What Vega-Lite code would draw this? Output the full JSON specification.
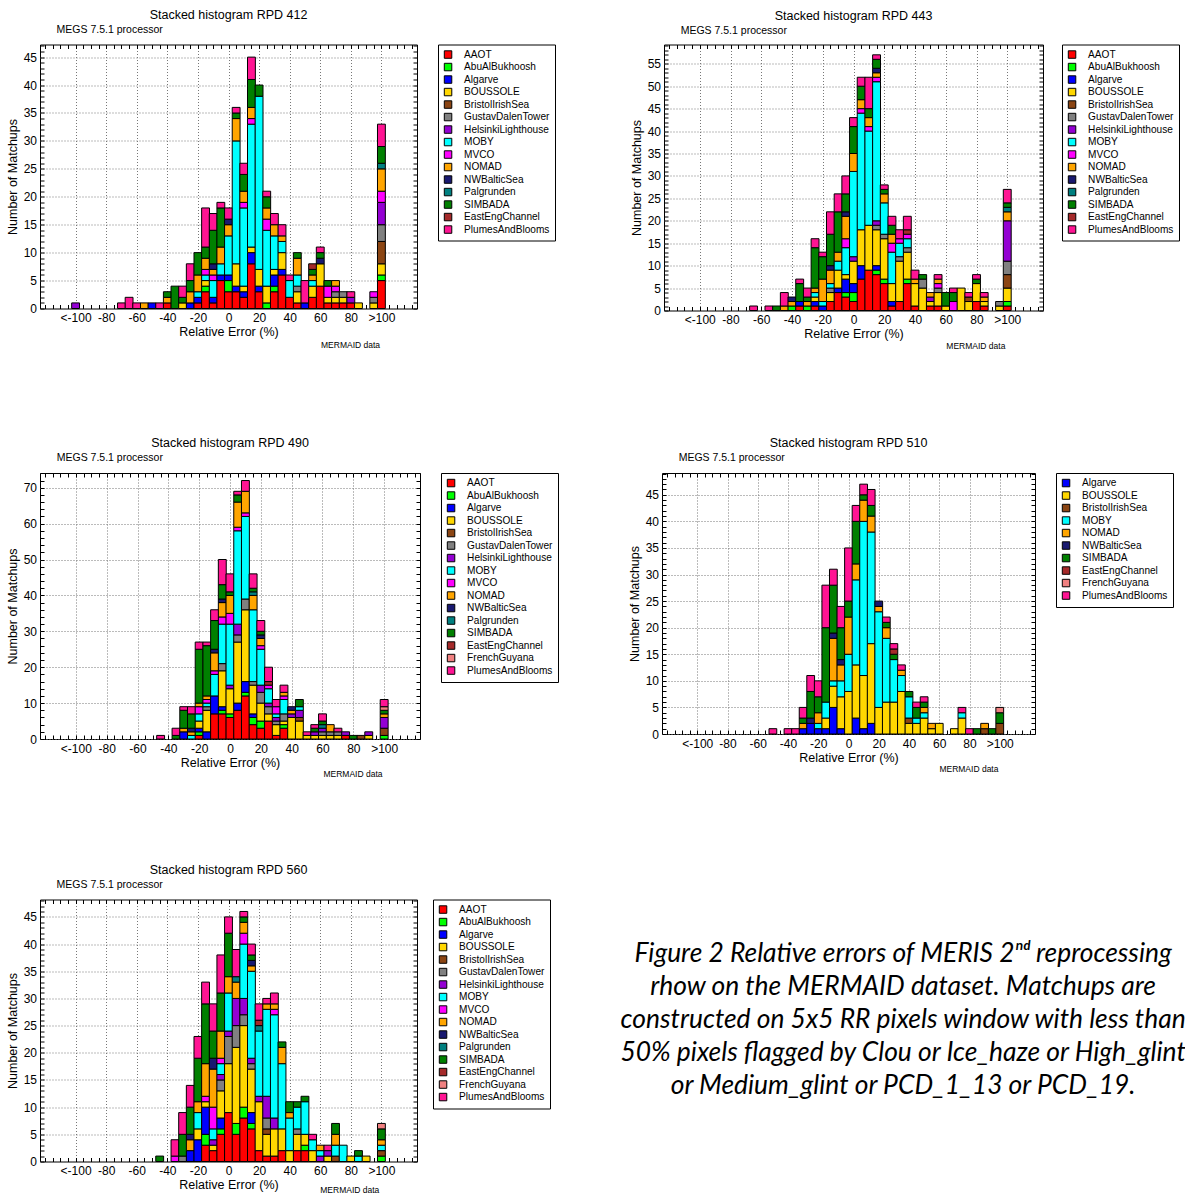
{
  "$schema": "https://vega.github.io/schema/vega-lite/v6.json",
  "padding": {"left": 5, "top": 7.5, "right": 0, "bottom": 0},
  "config": {
    "font": "Liberation Sans",
    "view": {"stroke": "black", "strokeWidth": 1},
    "title": {"font": "Liberation Sans", "fontSize": 12.5, "fontWeight": "normal", "color": "black", "frame": "group", "anchor": "middle", "offset": 3.5},
    "text": {"font": "Liberation Sans", "color": "black"},
    "axis": {
      "labelFont": "Liberation Sans", "labelFontSize": 12, "labelColor": "black",
      "titleFont": "Liberation Sans", "titleFontSize": 12.5, "titleFontWeight": "normal", "titleColor": "black",
      "tickSize": -4, "tickColor": "black", "tickWidth": 1, "domain": false,
      "gridColor": "#777777", "gridDash": [1, 2], "gridWidth": 1,
      "labelOverlap": false, "labelFlush": false, "labelBound": false
    },
    "axisX": {"labelPadding": 8, "titlePadding": 2},
    "axisY": {"labelPadding": 7.5, "titlePadding": 4},
    "legend": {
      "orient": "right", "offset": 19.5, "padding": 5, "strokeColor": "black", "fillColor": "white",
      "symbolType": "square", "symbolSize": 56, "symbolStrokeColor": "black", "symbolStrokeWidth": 1,
      "labelFont": "Liberation Sans", "labelFontSize": 10.1, "labelColor": "black", "labelOffset": 11, "rowPadding": 0.5
    }
  },
  "datasets": {
    "sites": [
      {"code": "AA", "site": "AAOT", "rank": 1},
      {"code": "AB", "site": "AbuAlBukhoosh", "rank": 2},
      {"code": "AL", "site": "Algarve", "rank": 3},
      {"code": "BO", "site": "BOUSSOLE", "rank": 4},
      {"code": "BR", "site": "BristolIrishSea", "rank": 5},
      {"code": "GD", "site": "GustavDalenTower", "rank": 6},
      {"code": "HL", "site": "HelsinkiLighthouse", "rank": 7},
      {"code": "MO", "site": "MOBY", "rank": 8},
      {"code": "MV", "site": "MVCO", "rank": 9},
      {"code": "NO", "site": "NOMAD", "rank": 10},
      {"code": "NW", "site": "NWBalticSea", "rank": 11},
      {"code": "PA", "site": "Palgrunden", "rank": 12},
      {"code": "SI", "site": "SIMBADA", "rank": 13},
      {"code": "EE", "site": "EastEngChannel", "rank": 14},
      {"code": "FG", "site": "FrenchGuyana", "rank": 15},
      {"code": "PB", "site": "PlumesAndBlooms", "rank": 16}
    ],
    "rpd412": [
      {"c": -100, "HL": 1},
      {"c": -70, "PB": 1},
      {"c": -65, "PB": 2},
      {"c": -60, "PB": 1},
      {"c": -55, "NO": 1},
      {"c": -50, "AL": 1},
      {"c": -45, "PB": 1},
      {"c": -40, "AA": 1, "NO": 1, "SI": 1},
      {"c": -35, "SI": 4},
      {"c": -30, "BO": 1, "SI": 1, "PB": 2},
      {"c": -25, "AL": 1, "NO": 2, "SI": 2, "PB": 3},
      {"c": -20, "AA": 1, "AL": 1, "MO": 1, "NO": 3, "SI": 4},
      {"c": -15, "AA": 3, "AB": 1, "BO": 1, "MO": 1, "MV": 1, "NO": 2, "SI": 2, "PB": 7},
      {"c": -10, "AA": 1, "AL": 1, "MO": 3, "MV": 1, "NO": 1, "NW": 1, "SI": 6, "PB": 3},
      {"c": -5, "AA": 5, "AL": 1, "MO": 2, "NO": 3, "SI": 7, "PB": 1},
      {"c": 0, "AA": 3, "AB": 2, "AL": 1, "MO": 7, "NO": 2, "NW": 1, "PB": 2},
      {"c": 5, "AA": 3, "AL": 1, "BO": 4, "MO": 22, "NO": 4, "SI": 1, "PB": 1},
      {"c": 10, "AA": 2, "AL": 1, "BO": 1, "MO": 14, "MV": 1, "NO": 2, "SI": 3, "PB": 2},
      {"c": 15, "AA": 8, "AL": 2, "BO": 1, "MO": 22, "MV": 1, "NO": 2, "SI": 5, "PB": 4},
      {"c": 20, "AA": 3, "AL": 1, "BO": 3, "MO": 31, "SI": 2},
      {"c": 25, "AB": 1, "BO": 3, "MO": 10, "MV": 2, "NO": 2, "SI": 2, "PB": 1},
      {"c": 30, "AA": 3, "AB": 1, "AL": 2, "BO": 1, "MO": 6, "NO": 2, "PB": 2},
      {"c": 35, "AA": 6, "AL": 1, "BO": 3, "MO": 2, "NO": 1, "PB": 2},
      {"c": 40, "AA": 2, "MO": 3, "PB": 1},
      {"c": 45, "AA": 1, "BO": 2, "GD": 1, "MO": 2, "NO": 3, "SI": 1},
      {"c": 50, "AL": 1, "PB": 4},
      {"c": 55, "AA": 2, "BO": 2, "MO": 1, "NO": 1, "SI": 1, "EE": 1},
      {"c": 60, "AA": 4, "BO": 4, "NW": 1, "SI": 1, "PB": 1},
      {"c": 65, "AA": 1, "BO": 1, "MV": 2, "SI": 1},
      {"c": 70, "AA": 1, "BO": 1, "GD": 1, "MV": 1, "NO": 1},
      {"c": 75, "AA": 1, "BO": 1, "GD": 1},
      {"c": 80, "AA": 1, "HL": 1, "PB": 1},
      {"c": 85, "BO": 1},
      {"c": 95, "BO": 1, "GD": 1, "MV": 1},
      {"c": 100, "AA": 5, "AB": 1, "BO": 2, "BR": 4, "GD": 3, "HL": 4, "MV": 2, "NO": 4, "PA": 1, "SI": 3, "PB": 4}
    ],
    "rpd443": [
      {"c": -65, "PB": 1},
      {"c": -55, "PB": 1},
      {"c": -50, "SI": 1},
      {"c": -45, "NO": 1, "PB": 3},
      {"c": -40, "AB": 1, "NO": 1, "NW": 1},
      {"c": -35, "AA": 1, "AL": 1, "SI": 4, "PB": 1},
      {"c": -30, "AB": 1, "NO": 1, "SI": 1, "PB": 2},
      {"c": -25, "AA": 1, "AL": 1, "BO": 1, "MO": 1, "NO": 1, "SI": 9, "PB": 2},
      {"c": -20, "AL": 1, "MO": 1, "NO": 5, "SI": 5, "PB": 1},
      {"c": -15, "AA": 2, "BO": 2, "GD": 1, "MO": 1, "NO": 3, "NW": 1, "SI": 7, "PB": 5},
      {"c": -10, "AA": 4, "AL": 1, "BO": 4, "MO": 2, "NO": 2, "SI": 9, "PB": 4},
      {"c": -5, "AA": 3, "AB": 1, "AL": 3, "BO": 1, "MO": 6, "MV": 2, "NO": 5, "NW": 1, "SI": 4, "PB": 4},
      {"c": 0, "AA": 2, "AB": 2, "AL": 2, "BO": 5, "HL": 1, "MO": 19, "NO": 4, "SI": 6, "PB": 2},
      {"c": 5, "AA": 7, "AL": 3, "BO": 8, "MO": 26, "MV": 1, "NO": 2, "SI": 3, "PB": 2},
      {"c": 10, "AA": 9, "BO": 10, "MO": 21, "MV": 1, "NO": 2, "SI": 2, "PB": 7},
      {"c": 15, "AA": 8, "AB": 1, "AL": 1, "BO": 8, "GD": 1, "HL": 1, "MO": 31, "MV": 1, "NO": 1, "NW": 1, "SI": 2, "PB": 1},
      {"c": 20, "AA": 6, "AB": 1, "BO": 9, "GD": 1, "MO": 7, "NO": 2, "SI": 1, "PB": 1},
      {"c": 25, "AA": 1, "AL": 1, "BO": 4, "MO": 7, "MV": 2, "NO": 2, "SI": 2, "PB": 2},
      {"c": 30, "AA": 2, "BO": 9, "GD": 1, "MO": 3, "MV": 1, "PB": 2},
      {"c": 35, "AA": 6, "AB": 1, "BO": 6, "GD": 1, "MO": 2, "MV": 1, "EE": 1, "PB": 3},
      {"c": 40, "AA": 1, "BO": 5, "NO": 1, "PB": 2},
      {"c": 45, "BO": 5, "GD": 2, "SI": 1},
      {"c": 50, "AA": 1, "BO": 1, "HL": 1, "NO": 1},
      {"c": 55, "AA": 1, "BO": 3, "GD": 1, "MV": 1, "NO": 1, "PB": 1},
      {"c": 60, "BO": 1, "SI": 3},
      {"c": 65, "MV": 2, "SI": 2, "PB": 1},
      {"c": 70, "BO": 5},
      {"c": 75, "BO": 2, "BR": 1, "PB": 1},
      {"c": 80, "AA": 2, "BO": 4, "SI": 1, "PB": 1},
      {"c": 85, "AA": 1, "BO": 1, "NO": 1, "PB": 1},
      {"c": 95, "BO": 1, "GD": 1},
      {"c": 100, "AA": 1, "AB": 1, "BO": 3, "BR": 3, "GD": 3, "HL": 9, "NO": 2, "PA": 1, "SI": 1, "PB": 3}
    ],
    "rpd490": [
      {"c": -45, "PB": 1},
      {"c": -35, "SI": 1, "PB": 2},
      {"c": -30, "AL": 2, "NO": 1, "SI": 5, "PB": 1},
      {"c": -25, "MO": 1, "NO": 1, "NW": 1, "SI": 4, "PB": 2},
      {"c": -20, "AA": 1, "AB": 1, "AL": 1, "BO": 2, "MO": 2, "MV": 2, "NO": 1, "SI": 15, "PB": 2},
      {"c": -15, "AL": 2, "BO": 6, "GD": 1, "MO": 1, "MV": 1, "NO": 1, "SI": 14, "PB": 1},
      {"c": -10, "AA": 7, "AL": 5, "MO": 6, "MV": 1, "NO": 5, "NW": 1, "SI": 8, "PB": 3},
      {"c": -5, "AA": 7, "AB": 1, "AL": 1, "BO": 10, "GD": 2, "MO": 11, "MV": 2, "NO": 4, "NW": 1, "SI": 4, "PB": 7},
      {"c": 0, "AA": 6, "AB": 1, "BO": 7, "HL": 1, "MO": 17, "MV": 3, "NO": 5, "SI": 1, "PB": 5},
      {"c": 5, "AA": 8, "AL": 2, "BO": 17, "GD": 2, "HL": 3, "MO": 26, "MV": 1, "NO": 7, "SI": 2, "PB": 1},
      {"c": 10, "AA": 12, "AB": 1, "AL": 3, "BO": 20, "GD": 3, "MO": 23, "MV": 1, "NO": 6, "PB": 3},
      {"c": 15, "AA": 4, "AB": 2, "AL": 1, "BO": 8, "GD": 1, "MO": 20, "NO": 4, "PA": 1, "SI": 1, "PB": 4},
      {"c": 20, "AA": 3, "AB": 2, "BO": 5, "GD": 3, "HL": 2, "MO": 10, "MV": 1, "NO": 2, "NW": 1, "SI": 1, "PB": 3},
      {"c": 25, "AA": 5, "BO": 2, "GD": 2, "HL": 1, "MO": 4, "MV": 1, "EE": 1, "PB": 4},
      {"c": 30, "AA": 1, "BO": 3, "GD": 1, "HL": 1, "MO": 1, "MV": 2, "PB": 2},
      {"c": 35, "AA": 3, "AB": 1, "BO": 1, "GD": 2, "MO": 4, "MV": 1, "NO": 1, "PB": 2},
      {"c": 40, "BO": 6, "HL": 1, "NO": 1, "NW": 1},
      {"c": 45, "BO": 5, "BR": 1, "HL": 2, "MO": 1, "SI": 2},
      {"c": 50, "BO": 1, "PB": 1},
      {"c": 55, "BO": 1, "HL": 1, "SI": 1, "PB": 1},
      {"c": 60, "BO": 1, "GD": 1, "HL": 1, "PA": 1, "SI": 1, "PB": 2},
      {"c": 65, "BO": 1, "GD": 1, "NO": 2},
      {"c": 70, "BO": 1, "GD": 1, "PB": 1},
      {"c": 75, "AA": 1, "HL": 1},
      {"c": 80, "SI": 1},
      {"c": 85, "BR": 1},
      {"c": 90, "BO": 1, "HL": 1},
      {"c": 100, "AB": 1, "BR": 2, "HL": 3, "NO": 1, "SI": 1, "FG": 1, "PB": 2}
    ],
    "rpd510": [
      {"c": -50, "PB": 1},
      {"c": -40, "PB": 1},
      {"c": -35, "PB": 1},
      {"c": -30, "AL": 1, "NO": 1, "SI": 1, "PB": 2},
      {"c": -25, "AL": 2, "NW": 1, "SI": 5, "PB": 3},
      {"c": -20, "AL": 1, "MO": 1, "NO": 2, "SI": 3, "PB": 3},
      {"c": -15, "AL": 1, "BO": 2, "MO": 3, "SI": 14, "PB": 8},
      {"c": -10, "AL": 5, "BO": 4, "MO": 1, "NO": 8, "NW": 1, "SI": 9, "PB": 3},
      {"c": -5, "AL": 1, "BO": 6, "MO": 3, "NO": 3, "NW": 1, "SI": 6, "PB": 4},
      {"c": 0, "BO": 8, "MO": 7, "NO": 7, "SI": 3, "PB": 10},
      {"c": 5, "AL": 3, "BO": 10, "MO": 16, "NO": 3, "SI": 8, "PB": 3},
      {"c": 10, "AL": 1, "BO": 10, "MO": 29, "NO": 4, "SI": 1, "PB": 2},
      {"c": 15, "AL": 2, "BO": 15, "MO": 21, "NO": 3, "SI": 2, "PB": 3},
      {"c": 20, "BO": 5, "MO": 18, "NO": 1, "NW": 1},
      {"c": 25, "BO": 6, "MO": 12, "NO": 2, "SI": 1, "PB": 1},
      {"c": 30, "BO": 6, "MO": 8, "SI": 1, "EE": 1, "PB": 1},
      {"c": 35, "BO": 8, "MO": 3, "NO": 1, "PB": 1},
      {"c": 40, "BO": 2, "BR": 1, "MO": 4, "SI": 1},
      {"c": 45, "BO": 2, "MO": 1, "SI": 2, "PB": 1},
      {"c": 50, "BO": 3, "MO": 1, "NO": 1, "SI": 1, "PB": 1},
      {"c": 55, "BO": 1, "NO": 1},
      {"c": 60, "BO": 2},
      {"c": 70, "BO": 1},
      {"c": 75, "BO": 3, "MO": 1, "PB": 1},
      {"c": 80, "PB": 1},
      {"c": 85, "SI": 1},
      {"c": 90, "BR": 1, "NO": 1},
      {"c": 95, "SI": 1},
      {"c": 100, "BR": 2, "SI": 2, "FG": 1}
    ],
    "rpd560": [
      {"c": -45, "SI": 1},
      {"c": -35, "MV": 1, "PB": 3},
      {"c": -30, "GD": 1, "SI": 4, "PB": 4},
      {"c": -25, "AL": 2, "NO": 2, "NW": 1, "SI": 5, "PB": 4},
      {"c": -20, "AL": 4, "BO": 2, "MO": 3, "NO": 2, "SI": 8, "PB": 4},
      {"c": -15, "AA": 3, "AB": 2, "AL": 5, "BO": 1, "MV": 1, "NO": 6, "SI": 11, "PB": 4},
      {"c": -10, "AA": 2, "BO": 1, "HL": 1, "MO": 2, "MV": 4, "NO": 7, "NW": 2, "SI": 5, "PB": 5},
      {"c": -5, "AA": 5, "AB": 1, "AL": 2, "BO": 5, "GD": 2, "HL": 1, "MO": 2, "MV": 1, "NO": 5, "SI": 7, "PB": 7},
      {"c": 0, "AA": 9, "BO": 9, "GD": 5, "HL": 1, "MO": 7, "NO": 3, "SI": 8, "PB": 3},
      {"c": 5, "AA": 5, "AB": 2, "BO": 14, "GD": 4, "HL": 5, "NO": 3, "PA": 1, "PB": 5},
      {"c": 10, "AA": 8, "AB": 2, "BO": 15, "GD": 2, "HL": 3, "MO": 10, "MV": 2, "NO": 2, "SI": 1, "PB": 1},
      {"c": 15, "AA": 6, "AB": 1, "AL": 2, "BO": 8, "GD": 1, "HL": 1, "MO": 16, "NO": 1, "NW": 1, "SI": 1, "PB": 2},
      {"c": 20, "AA": 2, "BO": 9, "HL": 1, "MO": 12, "PA": 1, "EE": 1, "PB": 3},
      {"c": 25, "AA": 1, "BO": 4, "BR": 1, "GD": 2, "HL": 4, "MO": 16, "NO": 1, "PB": 1},
      {"c": 30, "AA": 1, "BO": 5, "HL": 2, "MO": 19, "MV": 1, "NO": 1, "PB": 2},
      {"c": 35, "AA": 2, "BO": 4, "MO": 12, "NO": 3, "SI": 1},
      {"c": 40, "BO": 2, "MO": 6, "NO": 1, "SI": 2},
      {"c": 45, "AA": 2, "BO": 3, "GD": 1, "MO": 4, "SI": 1},
      {"c": 50, "AA": 2, "AB": 1, "BO": 2, "MO": 6, "SI": 1},
      {"c": 55, "BO": 2, "MO": 2, "PB": 1},
      {"c": 60, "HL": 1, "MO": 1, "NO": 1},
      {"c": 65, "BO": 1, "HL": 1, "PB": 1},
      {"c": 70, "BR": 1, "MO": 2, "NO": 2, "SI": 2},
      {"c": 75, "MO": 3},
      {"c": 80, "BO": 1},
      {"c": 85, "MO": 1, "SI": 1},
      {"c": 90, "BO": 1},
      {"c": 100, "AB": 1, "BR": 1, "MO": 1, "NO": 1, "SI": 2, "FG": 1}
    ]
  },
  "resolve": {"scale": {"color": "independent"}, "legend": {"color": "independent"}},
  "spacing": 84.5,
  "vconcat": [
    {
      "spacing": 73,
      "resolve": {"scale": {"color": "independent"}, "legend": {"color": "independent"}},
      "hconcat": [
        {
          "title": {"text": "Stacked histogram RPD 412"},
          "width": 377, "height": 264,
          "data": {"name": "rpd412"},
          "transform": [
            {"fold": ["AA", "AB", "AL", "BO", "BR", "GD", "HL", "MO", "MV", "NO", "NW", "PA", "SI", "EE", "FG", "PB"], "as": ["code", "n"]},
            {"filter": "datum.n > 0"},
            {"lookup": "code", "from": {"data": {"name": "sites"}, "key": "code", "fields": ["site", "rank"]}}
          ],
          "layer": [
            {
              "mark": {"type": "bar", "orient": "vertical", "width": 7.85, "stroke": "black", "strokeWidth": 1},
              "encoding": {
                "x": {"field": "c", "type": "quantitative", "scale": {"domain": [-120, 120], "nice": false, "zero": false},
                  "axis": {"orient": "bottom", "title": "Relative Error (%)", "tickCount": 48,
                    "labelExpr": "datum.value == -100 ? '<-100' : datum.value == 100 ? '>100' : (datum.value % 20 == 0 && abs(datum.value) < 100 ? '' + datum.value : '')",
                    "gridOpacity": {"condition": {"test": "datum.value % 20 == 0 && abs(datum.value) <= 100", "value": 1}, "value": 0}}},
                "y": {"field": "n", "type": "quantitative", "stack": "zero", "scale": {"domain": [0, 47.26], "nice": false},
                  "axis": {"orient": "left", "title": "Number of Matchups", "tickCount": 47,
                    "labelExpr": "datum.value % 5 == 0 ? '' + datum.value : ''",
                    "gridOpacity": {"condition": {"test": "datum.value % 5 == 0", "value": 1}, "value": 0}}},
                "color": {"field": "site", "type": "nominal",
                  "scale": {"domain": ["AAOT", "AbuAlBukhoosh", "Algarve", "BOUSSOLE", "BristolIrishSea", "GustavDalenTower", "HelsinkiLighthouse", "MOBY", "MVCO", "NOMAD", "NWBalticSea", "Palgrunden", "SIMBADA", "EastEngChannel", "PlumesAndBlooms"],
                    "range": ["#ff0000", "#00ff00", "#0000ff", "#ffd700", "#8b4513", "#808080", "#9400d3", "#00ffff", "#ff00ff", "#ffa500", "#191970", "#008080", "#008000", "#a52a2a", "#ff1493"]},
                  "legend": {"title": null}},
                "order": {"field": "rank", "type": "quantitative"}
              }
            },
            {
              "data": {"values": [{"note": "MEGS 7.5.1 processor"}]},
              "mark": {"type": "text", "align": "left", "baseline": "middle", "fontSize": 10.5},
              "encoding": {
                "text": {"field": "note"},
                "x": {"datum": -112.4, "type": "quantitative", "scale": {"domain": [-120, 120], "nice": false, "zero": false},
                  "axis": {"orient": "top", "tickCount": 48, "labels": false, "grid": false, "domain": false, "title": null}},
                "y": {"datum": 49.86, "type": "quantitative", "scale": {"domain": [0, 47.26], "nice": false},
                  "axis": {"orient": "right", "tickCount": 47, "labels": false, "grid": false, "domain": false, "title": null}}
              }
            },
            {
              "data": {"values": [{"note": "MERMAID data"}]},
              "mark": {"type": "text", "align": "left", "baseline": "middle", "fontSize": 8.5},
              "encoding": {
                "text": {"field": "note"},
                "x": {"datum": 60.5, "type": "quantitative", "axis": null},
                "y": {"datum": -6.62, "type": "quantitative", "axis": null}
              }
            }
          ],
          "resolve": {"axis": {"x": "independent", "y": "independent"}}
        },
        {
          "title": {"text": "Stacked histogram RPD 443"},
          "width": 379, "height": 266,
          "data": {"name": "rpd443"},
          "transform": [
            {"fold": ["AA", "AB", "AL", "BO", "BR", "GD", "HL", "MO", "MV", "NO", "NW", "PA", "SI", "EE", "FG", "PB"], "as": ["code", "n"]},
            {"filter": "datum.n > 0"},
            {"lookup": "code", "from": {"data": {"name": "sites"}, "key": "code", "fields": ["site", "rank"]}}
          ],
          "layer": [
            {
              "mark": {"type": "bar", "orient": "vertical", "width": 7.9, "stroke": "black", "strokeWidth": 1},
              "encoding": {
                "x": {"field": "c", "type": "quantitative", "scale": {"domain": [-120, 120], "nice": false, "zero": false},
                  "axis": {"orient": "bottom", "title": "Relative Error (%)", "tickCount": 48,
                    "labelExpr": "datum.value == -100 ? '<-100' : datum.value == 100 ? '>100' : (datum.value % 20 == 0 && abs(datum.value) < 100 ? '' + datum.value : '')",
                    "gridOpacity": {"condition": {"test": "datum.value % 20 == 0 && abs(datum.value) <= 100", "value": 1}, "value": 0}}},
                "y": {"field": "n", "type": "quantitative", "stack": "zero", "scale": {"domain": [0, 59.3], "nice": false},
                  "axis": {"orient": "left", "title": "Number of Matchups", "tickCount": 59,
                    "labelExpr": "datum.value % 5 == 0 ? '' + datum.value : ''",
                    "gridOpacity": {"condition": {"test": "datum.value % 5 == 0", "value": 1}, "value": 0}}},
                "color": {"field": "site", "type": "nominal",
                  "scale": {"domain": ["AAOT", "AbuAlBukhoosh", "Algarve", "BOUSSOLE", "BristolIrishSea", "GustavDalenTower", "HelsinkiLighthouse", "MOBY", "MVCO", "NOMAD", "NWBalticSea", "Palgrunden", "SIMBADA", "EastEngChannel", "PlumesAndBlooms"],
                    "range": ["#ff0000", "#00ff00", "#0000ff", "#ffd700", "#8b4513", "#808080", "#9400d3", "#00ffff", "#ff00ff", "#ffa500", "#191970", "#008080", "#008000", "#a52a2a", "#ff1493"]},
                  "legend": {"title": null, "offset": 18}},
                "order": {"field": "rank", "type": "quantitative"}
              }
            },
            {
              "data": {"values": [{"note": "MEGS 7.5.1 processor"}]},
              "mark": {"type": "text", "align": "left", "baseline": "middle", "fontSize": 10.5},
              "encoding": {
                "text": {"field": "note"},
                "x": {"datum": -112.4, "type": "quantitative", "scale": {"domain": [-120, 120], "nice": false, "zero": false},
                  "axis": {"orient": "top", "tickCount": 48, "labels": false, "grid": false, "domain": false, "title": null}},
                "y": {"datum": 62.42, "type": "quantitative", "scale": {"domain": [0, 59.3], "nice": false},
                  "axis": {"orient": "right", "tickCount": 59, "labels": false, "grid": false, "domain": false, "title": null}}
              }
            },
            {
              "data": {"values": [{"note": "MERMAID data"}]},
              "mark": {"type": "text", "align": "left", "baseline": "middle", "fontSize": 8.5},
              "encoding": {
                "text": {"field": "note"},
                "x": {"datum": 60.4, "type": "quantitative", "axis": null},
                "y": {"datum": -7.96, "type": "quantitative", "axis": null}
              }
            }
          ],
          "resolve": {"axis": {"x": "independent", "y": "independent"}}
        }
      ]
    },
    {
      "spacing": 68,
      "resolve": {"scale": {"color": "independent"}, "legend": {"color": "independent"}},
      "hconcat": [
        {
          "title": {"text": "Stacked histogram RPD 490"},
          "width": 380, "height": 266,
          "data": {"name": "rpd490"},
          "transform": [
            {"fold": ["AA", "AB", "AL", "BO", "BR", "GD", "HL", "MO", "MV", "NO", "NW", "PA", "SI", "EE", "FG", "PB"], "as": ["code", "n"]},
            {"filter": "datum.n > 0"},
            {"lookup": "code", "from": {"data": {"name": "sites"}, "key": "code", "fields": ["site", "rank"]}}
          ],
          "layer": [
            {
              "mark": {"type": "bar", "orient": "vertical", "width": 7.9, "stroke": "black", "strokeWidth": 1},
              "encoding": {
                "x": {"field": "c", "type": "quantitative", "scale": {"domain": [-120, 120], "nice": false, "zero": false},
                  "axis": {"orient": "bottom", "title": "Relative Error (%)", "tickCount": 48,
                    "labelExpr": "datum.value == -100 ? '<-100' : datum.value == 100 ? '>100' : (datum.value % 20 == 0 && abs(datum.value) < 100 ? '' + datum.value : '')",
                    "gridOpacity": {"condition": {"test": "datum.value % 20 == 0 && abs(datum.value) <= 100", "value": 1}, "value": 0}}},
                "y": {"field": "n", "type": "quantitative", "stack": "zero", "scale": {"domain": [0, 74.1], "nice": false},
                  "axis": {"orient": "left", "title": "Number of Matchups", "tickCount": 37,
                    "labelExpr": "datum.value % 10 == 0 ? '' + datum.value : ''",
                    "gridOpacity": {"condition": {"test": "datum.value % 10 == 0", "value": 1}, "value": 0}}},
                "color": {"field": "site", "type": "nominal",
                  "scale": {"domain": ["AAOT", "AbuAlBukhoosh", "Algarve", "BOUSSOLE", "BristolIrishSea", "GustavDalenTower", "HelsinkiLighthouse", "MOBY", "MVCO", "NOMAD", "NWBalticSea", "Palgrunden", "SIMBADA", "EastEngChannel", "FrenchGuyana", "PlumesAndBlooms"],
                    "range": ["#ff0000", "#00ff00", "#0000ff", "#ffd700", "#8b4513", "#808080", "#9400d3", "#00ffff", "#ff00ff", "#ffa500", "#191970", "#008080", "#008000", "#a52a2a", "#f08080", "#ff1493"]},
                  "legend": {"title": null}},
                "order": {"field": "rank", "type": "quantitative"}
              }
            },
            {
              "data": {"values": [{"note": "MEGS 7.5.1 processor"}]},
              "mark": {"type": "text", "align": "left", "baseline": "middle", "fontSize": 10.5},
              "encoding": {
                "text": {"field": "note"},
                "x": {"datum": -112.4, "type": "quantitative", "scale": {"domain": [-120, 120], "nice": false, "zero": false},
                  "axis": {"orient": "top", "tickCount": 48, "labels": false, "grid": false, "domain": false, "title": null}},
                "y": {"datum": 78.36, "type": "quantitative", "scale": {"domain": [0, 74.1], "nice": false},
                  "axis": {"orient": "right", "tickCount": 37, "labels": false, "grid": false, "domain": false, "title": null}}
              }
            },
            {
              "data": {"values": [{"note": "MERMAID data"}]},
              "mark": {"type": "text", "align": "left", "baseline": "middle", "fontSize": 8.5},
              "encoding": {
                "text": {"field": "note"},
                "x": {"datum": 60.6, "type": "quantitative", "axis": null},
                "y": {"datum": -9.75, "type": "quantitative", "axis": null}
              }
            }
          ],
          "resolve": {"axis": {"x": "independent", "y": "independent"}}
        },
        {
          "title": {"text": "Stacked histogram RPD 510"},
          "width": 373, "height": 261,
          "data": {"name": "rpd510"},
          "transform": [
            {"fold": ["AA", "AB", "AL", "BO", "BR", "GD", "HL", "MO", "MV", "NO", "NW", "PA", "SI", "EE", "FG", "PB"], "as": ["code", "n"]},
            {"filter": "datum.n > 0"},
            {"lookup": "code", "from": {"data": {"name": "sites"}, "key": "code", "fields": ["site", "rank"]}}
          ],
          "layer": [
            {
              "mark": {"type": "bar", "orient": "vertical", "width": 7.77, "stroke": "black", "strokeWidth": 1},
              "encoding": {
                "x": {"field": "c", "type": "quantitative", "scale": {"domain": [-120, 120], "nice": false, "zero": false},
                  "axis": {"orient": "bottom", "title": "Relative Error (%)", "tickCount": 48,
                    "labelExpr": "datum.value == -100 ? '<-100' : datum.value == 100 ? '>100' : (datum.value % 20 == 0 && abs(datum.value) < 100 ? '' + datum.value : '')",
                    "gridOpacity": {"condition": {"test": "datum.value % 20 == 0 && abs(datum.value) <= 100", "value": 1}, "value": 0}}},
                "y": {"field": "n", "type": "quantitative", "stack": "zero", "scale": {"domain": [0, 49.1], "nice": false},
                  "axis": {"orient": "left", "title": "Number of Matchups", "tickCount": 49,
                    "labelExpr": "datum.value % 5 == 0 ? '' + datum.value : ''",
                    "gridOpacity": {"condition": {"test": "datum.value % 5 == 0", "value": 1}, "value": 0}}},
                "color": {"field": "site", "type": "nominal",
                  "scale": {"domain": ["Algarve", "BOUSSOLE", "BristolIrishSea", "MOBY", "NOMAD", "NWBalticSea", "SIMBADA", "EastEngChannel", "FrenchGuyana", "PlumesAndBlooms"],
                    "range": ["#0000ff", "#ffd700", "#8b4513", "#00ffff", "#ffa500", "#191970", "#008000", "#a52a2a", "#f08080", "#ff1493"]},
                  "legend": {"title": null}},
                "order": {"field": "rank", "type": "quantitative"}
              }
            },
            {
              "data": {"values": [{"note": "MEGS 7.5.1 processor"}]},
              "mark": {"type": "text", "align": "left", "baseline": "middle", "fontSize": 10.5},
              "encoding": {
                "text": {"field": "note"},
                "x": {"datum": -112.3, "type": "quantitative", "scale": {"domain": [-120, 120], "nice": false, "zero": false},
                  "axis": {"orient": "top", "tickCount": 48, "labels": false, "grid": false, "domain": false, "title": null}},
                "y": {"datum": 51.98, "type": "quantitative", "scale": {"domain": [0, 49.1], "nice": false},
                  "axis": {"orient": "right", "tickCount": 49, "labels": false, "grid": false, "domain": false, "title": null}}
              }
            },
            {
              "data": {"values": [{"note": "MERMAID data"}]},
              "mark": {"type": "text", "align": "left", "baseline": "middle", "fontSize": 8.5},
              "encoding": {
                "text": {"field": "note"},
                "x": {"datum": 60.1, "type": "quantitative", "axis": null},
                "y": {"datum": -6.53, "type": "quantitative", "axis": null}
              }
            }
          ],
          "resolve": {"axis": {"x": "independent", "y": "independent"}}
        }
      ]
    },
    {
      "spacing": 68.1,
      "resolve": {"scale": {"color": "independent"}, "legend": {"color": "independent"}},
      "hconcat": [
        {
          "title": {"text": "Stacked histogram RPD 560"},
          "width": 377, "height": 262,
          "data": {"name": "rpd560"},
          "transform": [
            {"fold": ["AA", "AB", "AL", "BO", "BR", "GD", "HL", "MO", "MV", "NO", "NW", "PA", "SI", "EE", "FG", "PB"], "as": ["code", "n"]},
            {"filter": "datum.n > 0"},
            {"lookup": "code", "from": {"data": {"name": "sites"}, "key": "code", "fields": ["site", "rank"]}}
          ],
          "layer": [
            {
              "mark": {"type": "bar", "orient": "vertical", "width": 7.85, "stroke": "black", "strokeWidth": 1},
              "encoding": {
                "x": {"field": "c", "type": "quantitative", "scale": {"domain": [-120, 120], "nice": false, "zero": false},
                  "axis": {"orient": "bottom", "title": "Relative Error (%)", "tickCount": 48,
                    "labelExpr": "datum.value == -100 ? '<-100' : datum.value == 100 ? '>100' : (datum.value % 20 == 0 && abs(datum.value) < 100 ? '' + datum.value : '')",
                    "gridOpacity": {"condition": {"test": "datum.value % 20 == 0 && abs(datum.value) <= 100", "value": 1}, "value": 0}}},
                "y": {"field": "n", "type": "quantitative", "stack": "zero", "scale": {"domain": [0, 48.2], "nice": false},
                  "axis": {"orient": "left", "title": "Number of Matchups", "tickCount": 48,
                    "labelExpr": "datum.value % 5 == 0 ? '' + datum.value : ''",
                    "gridOpacity": {"condition": {"test": "datum.value % 5 == 0", "value": 1}, "value": 0}}},
                "color": {"field": "site", "type": "nominal",
                  "scale": {"domain": ["AAOT", "AbuAlBukhoosh", "Algarve", "BOUSSOLE", "BristolIrishSea", "GustavDalenTower", "HelsinkiLighthouse", "MOBY", "MVCO", "NOMAD", "NWBalticSea", "Palgrunden", "SIMBADA", "EastEngChannel", "FrenchGuyana", "PlumesAndBlooms"],
                    "range": ["#ff0000", "#00ff00", "#0000ff", "#ffd700", "#8b4513", "#808080", "#9400d3", "#00ffff", "#ff00ff", "#ffa500", "#191970", "#008080", "#008000", "#a52a2a", "#f08080", "#ff1493"]},
                  "legend": {"title": null, "offset": 15}},
                "order": {"field": "rank", "type": "quantitative"}
              }
            },
            {
              "data": {"values": [{"note": "MEGS 7.5.1 processor"}]},
              "mark": {"type": "text", "align": "left", "baseline": "middle", "fontSize": 10.5},
              "encoding": {
                "text": {"field": "note"},
                "x": {"datum": -112.4, "type": "quantitative", "scale": {"domain": [-120, 120], "nice": false, "zero": false},
                  "axis": {"orient": "top", "tickCount": 48, "labels": false, "grid": false, "domain": false, "title": null}},
                "y": {"datum": 50.78, "type": "quantitative", "scale": {"domain": [0, 48.2], "nice": false},
                  "axis": {"orient": "right", "tickCount": 48, "labels": false, "grid": false, "domain": false, "title": null}}
              }
            },
            {
              "data": {"values": [{"note": "MERMAID data"}]},
              "mark": {"type": "text", "align": "left", "baseline": "middle", "fontSize": 8.5},
              "encoding": {
                "text": {"field": "note"},
                "x": {"datum": 60, "type": "quantitative", "axis": null},
                "y": {"datum": -5.3, "type": "quantitative", "axis": null}
              }
            }
          ],
          "resolve": {"axis": {"x": "independent", "y": "independent"}}
        },
        {
          "width": 560, "height": 240,
          "view": {"stroke": null},
          "data": {"values": [{"caption": "Figure 2 Relative errors of MERIS 2ⁿᵈ reprocessing\nrhow on the MERMAID dataset. Matchups are\nconstructed on 5x5 RR pixels window with less than\n50% pixels flagged by Clou or Ice_haze or High_glint\nor Medium_glint or PCD_1_13 or PCD_19."}]},
          "mark": {"type": "text", "font": "Lato", "fontStyle": "italic", "fontSize": 26.4, "lineHeight": 33, "align": "center", "baseline": "middle", "dy": -66, "lineBreak": "\n", "color": "black"},
          "encoding": {"text": {"field": "caption", "type": "nominal"}}
        }
      ]
    }
  ]
}
